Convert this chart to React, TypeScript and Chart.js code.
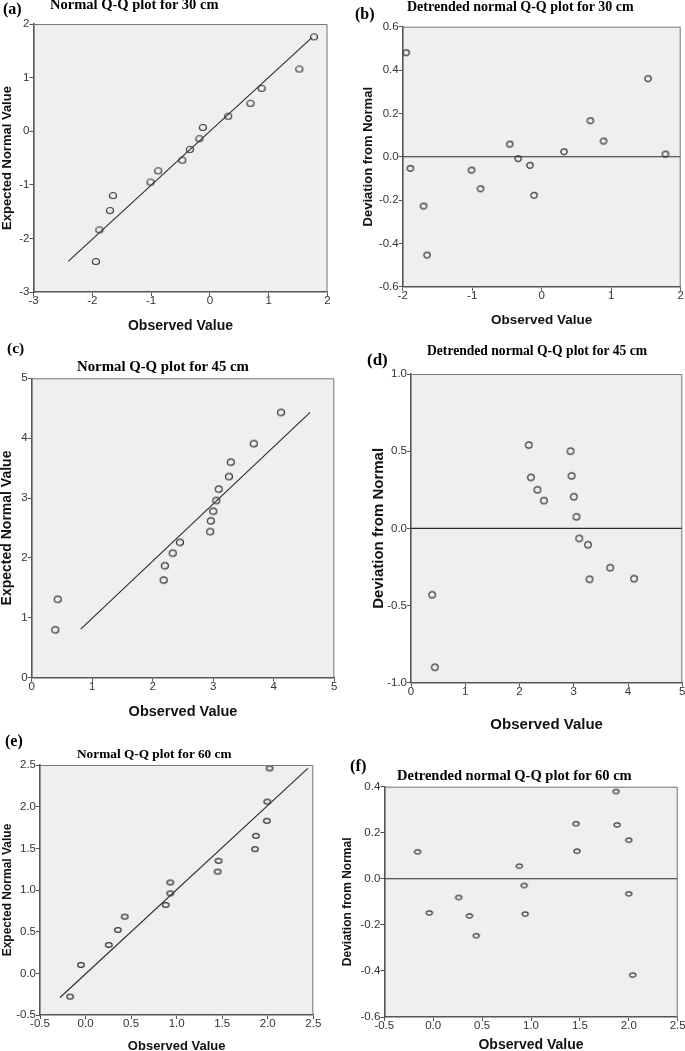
import React, { useEffect, useRef } from 'react';
import { Chart, registerables } from 'chart.js';

Chart.register(...registerables);

// ---------- DATA ----------
// (a) Normal Q-Q plot for 30 cm
const A_OBSERVED = [-1.94, -1.88, -1.70, -1.65, -1.01, -0.88, -0.47, -0.34, -0.18, -0.12, 0.31, 0.69, 0.88, 1.52, 1.77];
const A_EXPECTED = [-2.43, -1.84, -1.48, -1.20, -0.95, -0.74, -0.54, -0.34, -0.14, 0.07, 0.28, 0.52, 0.80, 1.16, 1.76];
const A_LINE_X = [-2.41, 1.73];
const A_LINE_Y = [-2.43, 1.74];
const A_X_TICKS = [-3, -2, -1, 0, 1, 2];
const A_Y_TICKS = [-3, -2, -1, 0, 1, 2];

// (b) Detrended normal Q-Q plot for 30 cm
const B_OBSERVED = [-1.95, -1.89, -1.70, -1.65, -1.01, -0.88, -0.46, -0.34, -0.17, -0.11, 0.32, 0.70, 0.89, 1.53, 1.78];
const B_DEVIATION = [0.48, -0.054, -0.228, -0.454, -0.062, -0.148, 0.058, -0.009, -0.04, -0.178, 0.023, 0.166, 0.072, 0.36, 0.012];
const B_ZERO_X = [-2, 2];
const B_ZERO_Y = [0, 0];
const B_X_TICKS = [-2, -1, 0, 1, 2];
const B_Y_TICKS = [-0.6, -0.4, -0.2, 0, 0.2, 0.4, 0.6];

// (c) Normal Q-Q plot for 45 cm
const C_OBSERVED = [0.39, 0.43, 2.18, 2.20, 2.33, 2.45, 2.95, 2.96, 3.00, 3.05, 3.09, 3.26, 3.29, 3.67, 4.12];
const C_EXPECTED = [0.80, 1.31, 1.63, 1.87, 2.08, 2.26, 2.44, 2.62, 2.78, 2.96, 3.15, 3.36, 3.60, 3.91, 4.43];
const C_LINE_X = [0.81, 4.60];
const C_LINE_Y = [0.81, 4.43];
const C_X_TICKS = [0, 1, 2, 3, 4, 5];
const C_Y_TICKS = [0, 1, 2, 3, 4, 5];

// (d) Detrended normal Q-Q plot for 45 cm
const D_OBSERVED = [0.39, 0.44, 2.17, 2.21, 2.33, 2.45, 2.94, 2.96, 3.00, 3.05, 3.10, 3.26, 3.29, 3.67, 4.11];
const D_DEVIATION = [-0.43, -0.90, 0.54, 0.33, 0.25, 0.18, 0.50, 0.34, 0.205, 0.075, -0.065, -0.106, -0.33, -0.255, -0.326];
const D_ZERO_X = [0, 5];
const D_ZERO_Y = [0, 0];
const D_X_TICKS = [0, 1, 2, 3, 4, 5];
const D_Y_TICKS = [-1, -0.5, 0, 0.5, 1];

// (e) Normal Q-Q plot for 60 cm
const E_OBSERVED = [-0.17, -0.05, 0.255, 0.355, 0.43, 0.88, 0.93, 0.93, 1.45, 1.46, 1.86, 1.87, 1.99, 1.995, 2.02];
const E_EXPECTED = [-0.28, 0.10, 0.34, 0.52, 0.68, 0.82, 0.96, 1.09, 1.22, 1.35, 1.49, 1.65, 1.83, 2.06, 2.46];
const E_LINE_X = [-0.28, 2.44];
const E_LINE_Y = [-0.29, 2.46];
const E_X_TICKS = [-0.5, 0, 0.5, 1, 1.5, 2, 2.5];
const E_Y_TICKS = [-0.5, 0, 0.5, 1, 1.5, 2, 2.5];

// (f) Detrended normal Q-Q plot for 60 cm
const F_OBSERVED = [-0.16, -0.04, 0.26, 0.37, 0.44, 0.88, 0.93, 0.94, 1.46, 1.47, 1.87, 1.88, 2.00, 2.00, 2.04];
const F_DEVIATION = [0.117, -0.148, -0.081, -0.161, -0.247, 0.055, -0.029, -0.153, 0.239, 0.120, 0.379, 0.234, 0.168, -0.065, -0.418];
const F_ZERO_X = [-0.5, 2.5];
const F_ZERO_Y = [0, 0];
const F_X_TICKS = [-0.5, 0, 0.5, 1, 1.5, 2, 2.5];
const F_Y_TICKS = [-0.6, -0.4, -0.2, 0, 0.2, 0.4];

const X_TITLE = 'Observed Value';
const Y_TITLE_QQ = 'Expected Normal Value';
const Y_TITLE_DT = 'Deviation from Normal';

// ---------- LAYOUT ----------
const SANS = '"Liberation Sans", Arial, Helvetica, sans-serif';
const SERIF = '"Liberation Serif", "Times New Roman", Times, serif';

type PanelCfg = {
  cl: number; ct: number; w: number; h: number;
  wy: number; pt: number; pr: number; hx: number;
  xs: number[]; ys: number[]; lx: number[]; ly: number[];
  xTicks: number[]; yTicks: number[]; xDec: number; yDec: number;
  yTitle: string;
  xtSize: number; xtPad: number; ytSize: number; ytPad: number;
  rx: number; ry: number;
};

const PANELS: PanelCfg[] = [
  { cl: 0, ct: 0, w: 340, h: 335, wy: 33.5, pt: 24, pr: 12.5, hx: 43,
    xs: A_OBSERVED, ys: A_EXPECTED, lx: A_LINE_X, ly: A_LINE_Y,
    xTicks: A_X_TICKS, yTicks: A_Y_TICKS, xDec: 0, yDec: 0, yTitle: Y_TITLE_QQ,
    xtSize: 14, xtPad: 0.6, ytSize: 13, ytPad: -0.3, rx: 3.5, ry: 3.0 },
  { cl: 340, ct: 0, w: 345, h: 335, wy: 62.7, pt: 26.7, pr: 4.3, hx: 48.3,
    xs: B_OBSERVED, ys: B_DEVIATION, lx: B_ZERO_X, ly: B_ZERO_Y,
    xTicks: B_X_TICKS, yTicks: B_Y_TICKS, xDec: 0, yDec: 1, yTitle: Y_TITLE_DT,
    xtSize: 13.5, xtPad: 6.4, ytSize: 13, ytPad: 20.5, rx: 3.2, ry: 2.8 },
  { cl: 0, ct: 335, w: 340, h: 390, wy: 31.7, pt: 43.3, pr: 5.7, hx: 47.3,
    xs: C_OBSERVED, ys: C_EXPECTED, lx: C_LINE_X, ly: C_LINE_Y,
    xTicks: C_X_TICKS, yTicks: C_Y_TICKS, xDec: 0, yDec: 0, yTitle: Y_TITLE_QQ,
    xtSize: 14.5, xtPad: 4.3, ytSize: 14, ytPad: -1.1, rx: 3.5, ry: 3.2 },
  { cl: 340, ct: 335, w: 345, h: 405, wy: 71, pt: 39, pr: 2.7, hx: 57.3,
    xs: D_OBSERVED, ys: D_DEVIATION, lx: D_ZERO_X, ly: D_ZERO_Y,
    xTicks: D_X_TICKS, yTicks: D_Y_TICKS, xDec: 0, yDec: 1, yTitle: Y_TITLE_DT,
    xtSize: 15, xtPad: 6, ytSize: 15, ytPad: 30.3, rx: 3.3, ry: 3.1 },
  { cl: 0, ct: 725, w: 340, h: 326, wy: 40, pt: 40, pr: 26.7, hx: 36,
    xs: E_OBSERVED, ys: E_EXPECTED, lx: E_LINE_X, ly: E_LINE_Y,
    xTicks: E_X_TICKS, yTicks: E_Y_TICKS, xDec: 1, yDec: 1, yTitle: Y_TITLE_QQ,
    xtSize: 13, xtPad: -3.3, ytSize: 12, ytPad: 0.1, rx: 3.3, ry: 2.4 },
  { cl: 340, ct: 740, w: 345, h: 311, wy: 44.3, pt: 46.7, pr: 7.3, hx: 34,
    xs: F_OBSERVED, ys: F_DEVIATION, lx: F_ZERO_X, ly: F_ZERO_Y,
    xTicks: F_X_TICKS, yTicks: F_Y_TICKS, xDec: 1, yDec: 1, yTitle: Y_TITLE_DT,
    xtSize: 14, xtPad: -2.9, ytSize: 12, ytPad: 0.1, rx: 3.1, ry: 2.2 },
];

const TEXTS = [
  { text: '(a)', left: 3, base: 14, size: 16 },
  { text: 'Normal Q-Q plot for 30 cm', left: 50, base: 9.5, size: 14.5 },
  { text: '(b)', left: 355, base: 19, size: 16 },
  { text: 'Detrended normal Q-Q plot for 30 cm', left: 407, base: 12, size: 14 },
  { text: '(c)', left: 7, base: 353, size: 15.5 },
  { text: 'Normal Q-Q plot for 45 cm', left: 77, base: 371, size: 14.8 },
  { text: '(d)', left: 367, base: 365, size: 17 },
  { text: 'Detrended normal Q-Q plot for 45 cm', left: 427, base: 355.5, size: 13.6 },
  { text: '(e)', left: 5, base: 746.5, size: 16 },
  { text: 'Normal Q-Q plot for 60 cm', left: 77, base: 758.3, size: 13.3 },
  { text: '(f)', left: 350, base: 772, size: 16.5 },
  { text: 'Detrended normal Q-Q plot for 60 cm', left: 397, base: 780, size: 14.5 },
];

function makeMarker(rx: number, ry: number): HTMLCanvasElement {
  const c = document.createElement('canvas');
  const w = Math.ceil(2 * rx + 3);
  const h = Math.ceil(2 * ry + 3);
  c.width = w;
  c.height = h;
  const ctx = c.getContext('2d')!;
  ctx.strokeStyle = '#333';
  ctx.lineWidth = 1.2;
  ctx.beginPath();
  ctx.ellipse(w / 2, h / 2, rx, ry, 0, 0, Math.PI * 2);
  ctx.stroke();
  return c;
}

const framePlugin = {
  id: 'qqframe',
  beforeDraw(chart: any) {
    const { ctx, chartArea } = chart;
    const { left, top, right, bottom } = chartArea;
    ctx.save();
    ctx.fillStyle = '#efefef';
    ctx.fillRect(left, top, right - left, bottom - top);
    ctx.restore();
  },
  afterDatasetsDraw(chart: any) {
    const { ctx, chartArea } = chart;
    const { left, top, right, bottom } = chartArea;
    ctx.save();
    ctx.strokeStyle = '#777';
    ctx.lineWidth = 1;
    ctx.beginPath();
    ctx.moveTo(left, top + 0.5);
    ctx.lineTo(right - 0.5, top + 0.5);
    ctx.lineTo(right - 0.5, bottom);
    ctx.stroke();
    ctx.restore();
  },
};

function fmt(v: number, dec: number) {
  return dec > 0 ? Number(v).toFixed(dec) : String(Math.round(v));
}

function Panel({ p }: { p: PanelCfg }) {
  const ref = useRef<HTMLCanvasElement | null>(null);
  useEffect(() => {
    if (!ref.current) return;
    const marker = makeMarker(p.rx, p.ry);
    const pts = p.xs.map((x, i) => ({ x, y: p.ys[i] }));
    const line = p.lx.map((x, i) => ({ x, y: p.ly[i] }));
    const tickFont = { family: SANS, size: 11.5 };
    const grid = { display: true, drawOnChartArea: false, drawTicks: true, tickLength: 4, color: '#555', lineWidth: 1 };
    const border = { display: true, color: '#555', width: 1.6 };
    const chart = new Chart(ref.current, {
      type: 'scatter',
      data: {
        datasets: [
          { data: pts, pointStyle: marker as any, pointRadius: 3.5, pointHoverRadius: 3.5,
            borderColor: '#333', backgroundColor: 'rgba(0,0,0,0)', showLine: false },
          { data: line, showLine: true, borderColor: '#2b2b2b', borderWidth: 1.1,
            pointRadius: 0, pointHoverRadius: 0, fill: false },
        ],
      } as any,
      options: {
        responsive: false,
        animation: false,
        events: [],
        layout: { autoPadding: false, padding: { left: 0, top: p.pt, right: p.pr, bottom: 0 } },
        plugins: { legend: { display: false }, tooltip: { enabled: false }, title: { display: false } },
        scales: {
          x: {
            type: 'linear', position: 'bottom',
            min: p.xTicks[0], max: p.xTicks[p.xTicks.length - 1],
            afterBuildTicks: (s: any) => { s.ticks = p.xTicks.map((v) => ({ value: v })); },
            afterFit: (s: any) => { s.height = p.hx; },
            ticks: { font: tickFont, color: '#333', padding: -2, maxRotation: 0, autoSkip: false,
              callback: (v: any) => fmt(Number(v), p.xDec) },
            grid, border,
            title: { display: true, text: X_TITLE, color: '#111',
              font: { family: SANS, size: p.xtSize, weight: 'bold' },
              padding: { top: 0, bottom: p.xtPad } },
          },
          y: {
            type: 'linear', position: 'left',
            min: p.yTicks[0], max: p.yTicks[p.yTicks.length - 1],
            afterBuildTicks: (s: any) => { s.ticks = p.yTicks.map((v) => ({ value: v })); },
            afterFit: (s: any) => { s.width = p.wy; },
            ticks: { font: tickFont, color: '#333', padding: 0, autoSkip: false,
              callback: (v: any) => fmt(Number(v), p.yDec) },
            grid, border,
            title: { display: true, text: p.yTitle, color: '#111',
              font: { family: SANS, size: p.ytSize, weight: 'bold' },
              padding: { top: p.ytPad, bottom: 0 } },
          },
        },
      } as any,
      plugins: [framePlugin],
    });
    return () => chart.destroy();
  }, [p]);
  return (
    <canvas
      ref={ref}
      width={p.w}
      height={p.h}
      style={{ position: 'absolute', left: p.cl, top: p.ct, width: p.w, height: p.h, display: 'block' }}
    />
  );
}

export default function App() {
  return (
    <div style={{ position: 'absolute', left: 0, top: 0, width: 685, height: 1051, overflow: 'hidden', background: '#fff' }}>
      {PANELS.map((p, i) => (
        <Panel key={i} p={p} />
      ))}
      {TEXTS.map((t, i) => (
        <div
          key={'t' + i}
          style={{
            position: 'absolute',
            left: t.left,
            top: t.base - 0.8375 * t.size,
            fontFamily: SERIF,
            fontWeight: 'bold',
            fontSize: t.size,
            lineHeight: t.size + 'px',
            whiteSpace: 'nowrap',
            color: '#000',
          }}
        >
          {t.text}
        </div>
      ))}
    </div>
  );
}
